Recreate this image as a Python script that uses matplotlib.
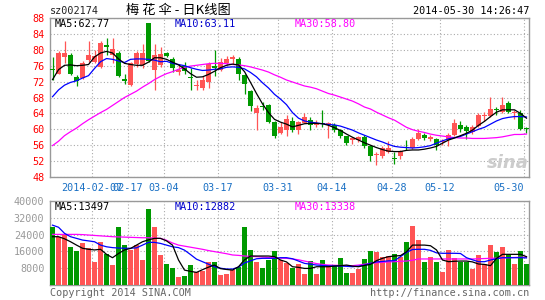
import matplotlib
matplotlib.use('Agg')
import matplotlib.pyplot as plt
import numpy as np

# daily K data for sz002174
opens = [75.2, 74.0, 78.2, 78.6, 73.1, 73.0, 77.5, 77.0, 75.7, 81.2,
         78.8, 79.2, 72.7, 71.1, 76.5, 76.1, 86.7, 74.8, 76.1, 79.2,
         77.6, 74.3, 76.0, 73.2, 70.8, 70.4, 72.0, 76.0, 75.0, 76.8,
         77.6, 77.6, 73.6, 69.6, 64.0, 65.7, 66.1, 61.9, 59.0, 59.8,
         62.1, 59.8, 61.7, 62.3, 61.2, 61.7, 61.1, 61.2, 59.8, 58.2,
         57.4, 57.4, 58.1, 55.7, 53.5, 53.2, 54.4, 52.8, 53.2, 55.5,
         55.4, 57.6, 58.6, 57.6, 57.6, 56.8, 57.3, 58.6, 61.2, 60.7,
         59.2, 60.9, 63.4, 63.3, 64.9, 64.4, 66.7, 64.1, 64.0, 60.1]
closes = [74.9, 79.2, 79.3, 74.0, 72.2, 76.6, 78.6, 78.4, 81.7, 80.7,
          80.3, 73.5, 72.1, 76.7, 79.2, 79.2, 77.3, 78.6, 79.0, 78.5,
          75.3, 74.8, 74.6, 73.0, 71.2, 72.3, 76.5, 75.4, 76.9, 77.7,
          78.1, 73.9, 71.5, 65.9, 65.4, 65.6, 61.9, 58.2, 60.7, 62.7,
          59.8, 61.9, 63.2, 61.2, 61.7, 61.3, 61.5, 59.8, 58.2, 56.5,
          57.7, 58.0, 55.7, 53.2, 53.7, 55.2, 55.2, 52.6, 54.6, 55.4,
          57.6, 59.0, 57.9, 58.0, 56.1, 57.0, 58.6, 61.5, 60.2, 59.6,
          60.7, 63.7, 63.7, 65.1, 64.8, 66.2, 64.4, 64.2, 60.1, 60.0]
highs = [78.2, 79.8, 82.2, 79.2, 73.6, 77.3, 82.2, 80.0, 82.3, 83.0,
         83.0, 79.7, 73.8, 76.9, 79.8, 81.5, 86.8, 81.5, 80.7, 79.4,
         78.2, 76.5, 77.0, 75.5, 72.5, 73.5, 77.0, 80.0, 78.0, 78.5,
         78.8, 78.2, 74.0, 69.9, 66.1, 66.9, 66.3, 62.1, 61.9, 63.7,
         63.2, 62.1, 64.0, 63.2, 62.3, 64.8, 61.9, 61.7, 60.2, 58.4,
         58.1, 58.4, 58.6, 56.1, 54.2, 55.7, 57.1, 54.4, 54.8, 57.3,
         58.1, 60.1, 59.0, 58.6, 57.9, 57.6, 59.0, 62.7, 62.1, 61.1,
         61.1, 64.0, 64.4, 68.2, 65.7, 68.2, 67.1, 64.8, 64.8, 60.7]
lows = [72.3, 73.8, 76.8, 73.6, 71.0, 72.6, 76.9, 76.6, 75.4, 78.6,
        76.7, 73.2, 71.3, 70.8, 75.7, 75.5, 76.9, 70.0, 75.7, 78.1,
        74.4, 73.7, 74.0, 70.0, 70.0, 69.8, 70.5, 73.5, 74.6, 76.3,
        76.5, 72.3, 69.0, 64.5, 59.8, 64.8, 61.7, 57.9, 58.7, 58.4,
        59.4, 58.7, 61.5, 59.8, 60.7, 60.7, 57.9, 59.4, 57.7, 56.1,
        56.2, 56.9, 55.4, 52.1, 50.9, 52.7, 54.0, 51.2, 52.6, 54.8,
        55.0, 57.3, 57.3, 57.1, 54.8, 56.1, 55.9, 58.2, 59.4, 57.6,
        58.9, 60.6, 62.1, 63.2, 63.6, 64.0, 64.2, 62.7, 59.8, 59.0]
volumes = [27770, 23010, 24300, 18250, 16270, 19840, 17600, 11110, 20630, 14700,
           9520, 27770, 19040, 16500, 19040, 11900, 36180, 27770, 14280, 10000,
           8170, 3970, 4500, 9520, 6200, 6800, 11110, 11110, 4900, 5400,
           7140, 8600, 27770, 16660, 10900, 7900, 11900, 16190, 11900, 10500,
           8250, 10000, 5240, 11590, 5240, 11900, 9520, 9520, 13020, 5870,
           5870, 7620, 12380, 16190, 15870, 13490, 13810, 14600, 13490, 20630,
           28100, 21430, 11110, 13490, 11110, 6350, 16670, 13000, 11110, 11110,
           7620, 14290, 10000, 19050, 15870, 17940, 14290, 10000, 16190, 10000]

# moving average lines as drawn (they include data from before the window)
ma5 = [72.5, 75.0, 76.1, 76.2, 76.0, 76.1, 76.3, 78.2, 79.2, 79.6,
       79.2, 77.7, 76.6, 76.3, 76.1, 76.1, 76.9, 78.0, 78.0, 77.6,
       76.9, 76.2, 75.2, 74.0, 73.1, 73.2, 73.8, 74.6, 75.5, 76.1,
       76.4, 76.2, 74.5, 71.8, 69.0, 66.4, 64.2, 62.5, 61.8, 61.3,
       60.6, 61.0, 61.4, 61.5, 61.5, 61.4, 61.0, 60.4, 59.7, 58.8,
       58.0, 57.3, 56.6, 56.0, 55.4, 54.9, 54.5, 54.4, 54.4, 54.7,
       54.8, 54.8, 55.0, 55.3, 55.7, 56.5, 57.3, 57.8, 58.4, 59.0,
       59.8, 61.0, 62.0, 63.2, 64.3, 64.9, 64.9, 64.9, 64.0, 62.8]
ma10 = [68.2, 69.9, 71.1, 71.8, 72.2, 72.9, 73.5, 75.3, 77.0, 77.8,
        77.6, 77.2, 76.8, 77.6, 77.7, 77.7, 77.6, 77.4, 77.0, 77.1,
        76.6, 76.3, 76.0, 75.5, 75.1, 74.8, 74.9, 75.1, 75.2, 75.6,
        75.7, 75.6, 75.2, 74.3, 73.2, 71.7, 70.4, 68.8, 67.6, 66.2,
        64.2, 62.8, 62.1, 61.8, 61.6, 61.4, 61.2, 61.1, 60.8, 60.3,
        59.8, 59.1, 58.5, 57.9, 57.3, 56.8, 56.2, 55.7, 55.5, 55.4,
        55.3, 55.4, 55.6, 55.9, 56.5, 57.1, 57.6, 57.9, 58.2, 58.8,
        59.4, 60.0, 60.5, 61.3, 62.1, 62.7, 63.0, 63.2, 63.2, 63.1]
ma30 = [55.9, 57.0, 58.4, 59.4, 60.3, 61.4, 62.4, 63.3, 64.2, 65.0,
        66.0, 67.0, 68.0, 68.8, 69.6, 70.6, 71.5, 72.5, 73.3, 74.0,
        74.5, 75.1, 75.6, 75.9, 76.1, 76.3, 76.5, 76.6, 76.6, 76.5,
        76.3, 76.2, 76.0, 75.7, 75.3, 74.9, 74.4, 73.7, 73.1, 72.4,
        71.9, 71.4, 70.9, 70.6, 70.2, 69.6, 69.0, 68.6, 68.1, 67.6,
        67.1, 66.4, 65.6, 65.1, 64.3, 63.6, 62.9, 62.3, 61.4, 60.5,
        59.9, 59.5, 59.2, 58.8, 58.5, 58.3, 58.1, 57.9, 57.8, 57.8,
        57.7, 57.7, 57.7, 57.8, 57.9, 58.1, 58.4, 58.7, 58.7, 58.8]
vol_ma5 = [23000, 23000, 22000, 20600, 19000, 17500, 17000, 16700, 17000, 14600,
           13000, 15000, 16700, 17400, 19000, 20600, 21500, 22200, 22200, 21000,
           19000, 11900, 7100, 6500, 6000, 7300, 8500, 9500, 7800, 7400,
           7100, 8700, 12000, 13800, 13800, 13800, 13800, 13500, 11900, 11000,
           8700, 8400, 7900, 7900, 8700, 8700, 8700, 9000, 9200, 9500,
           9000, 8700, 9300, 9800, 11600, 12700, 13500, 13800, 14000, 15800,
           19000, 19000, 19000, 18700, 16700, 11900, 11100, 11300, 11400, 11400,
           11000, 10000, 9800, 9200, 12700, 14600, 14600, 14600, 14600, 13500]
vol_ma10 = [28500, 27500, 24600, 23000, 22200, 21400, 21000, 20600, 19000, 18200,
            17800, 17600, 17500, 17500, 17700, 19000, 20300, 20300, 19800, 19000,
            18200, 17800, 16600, 14500, 12300, 11100, 9900, 8700, 8000, 7600,
            7600, 8500, 10500, 11500, 12500, 12700, 12700, 12700, 13000, 13000,
            12500, 11400, 10300, 9900, 9500, 9300, 9100, 9050, 9050, 8900,
            8700, 9000, 9500, 10300, 11000, 11200, 11500, 11600, 13500, 15500,
            16900, 17000, 17000, 16500, 15300, 15100, 15100, 15100, 15000, 13000,
            12000, 11100, 11100, 11900, 12500, 13000, 13000, 13000, 13000, 12900]
vol_ma30 = [24100, 24100, 24100, 24100, 24100, 24000, 23800, 23600, 23400, 23200,
            23000, 22900, 22800, 22700, 22600, 22500, 22500, 22300, 22200, 21300,
            20000, 19000, 18500, 18000, 17500, 17000, 16400, 15900, 15400, 14900,
            14300, 14100, 13800, 13600, 13500, 13300, 13100, 13000, 12800, 12700,
            12400, 12000, 11400, 10800, 10200, 9800, 9500, 9400, 9300, 9200,
            9200, 9500, 9900, 10300, 10600, 10800, 11000, 11100, 11300, 11400,
            11800, 12400, 12400, 12400, 12400, 12400, 12400, 12400, 12400, 12400,
            12400, 12500, 12600, 12700, 12800, 12900, 13000, 13100, 13200, 13300]

# legend values as printed on the chart
price_legend = ['MA5:62.77', 'MA10:63.11', 'MA30:58.80']
vol_legend = ['MA5:13497', 'MA10:12882', 'MA30:13338']

date_labels = ['2014-02-07', '02-17', '03-04', '03-17', '03-31', '04-14', '04-28', '05-12', '05-30']
date_index = [7, 13, 19, 28, 38, 47, 57, 65, 79]
price_ticks = [48, 52, 56, 60, 64, 68, 72, 76, 80, 84, 88]
vol_ticks = [8000, 16000, 24000, 32000, 40000]

RED = '#ff5555'
GREEN = '#009900'
GRID = '#aaaaaa'
EDGE = '#999999'
MONO = 'DejaVu Sans Mono'

W, H = 545, 300
fig = plt.figure(figsize=(W / 100, H / 100), dpi=100)


def fx(px):
    return px / W


def fy(py):
    return 1 - py / H


ax = fig.add_axes([fx(50), fy(177), fx(529) - fx(50), fy(18) - fy(177)])
axv = fig.add_axes([fx(50), fy(285), fx(529) - fx(50), fy(201) - fy(285)])

x = np.arange(len(closes))
o = np.array(opens)
c = np.array(closes)
colors = np.where(c >= o, RED, GREEN)
grid_x = np.array(date_index) - 0.4

# candles
ax.vlines(x, lows, highs, colors=colors, lw=0.9, zorder=3)
ax.bar(x, np.maximum(np.abs(c - o), 0.25), bottom=np.minimum(o, c), width=0.8,
       color=colors, linewidth=0, zorder=4)
ax.plot(x, ma30, color='#ff00ff', lw=0.9, zorder=5)
ax.plot(x, ma10, color='#0000ff', lw=0.9, zorder=5)
ax.plot(x, ma5, color='black', lw=0.9, zorder=6)

# volume
axv.bar(x, volumes, width=0.8, color=colors, linewidth=0, zorder=3)
axv.plot(x, vol_ma30, color='#ff00ff', lw=0.9, zorder=5)
axv.plot(x, vol_ma10, color='#0000ff', lw=0.9, zorder=5)
axv.plot(x, vol_ma5, color='black', lw=0.9, zorder=6)

for a in (ax, axv):
    a.set_xlim(-0.42, 79.42)
    for s in a.spines.values():
        s.set_color(EDGE)
        s.set_linewidth(1.0)
    a.set_xticks(grid_x)
    a.grid(True, color=GRID, lw=0.8, ls=(0, (1, 2)), zorder=1)
    a.set_axisbelow(True)

ax.set_ylim(48, 88)
ax.set_yticks(price_ticks)
ax.set_yticklabels([str(t) for t in price_ticks], family=MONO, fontsize=7.3)
ax.tick_params(axis='y', length=0, pad=4, labelcolor='#ff0000')
ax.set_xticklabels(date_labels, family=MONO, fontsize=7.3)
ax.tick_params(axis='x', length=0, pad=4, labelcolor='#1a70c4')
ax.get_xticklabels()[-1].set_ha('right')

axv.set_ylim(0, 40000)
axv.set_yticks(vol_ticks)
axv.set_yticklabels([str(t) for t in vol_ticks], family=MONO, fontsize=7.3)
axv.tick_params(axis='y', length=0, pad=4, labelcolor='#999999')
axv.tick_params(axis='x', length=0, labelbottom=False)

# header and legends
fig.text(fx(50), fy(11), 'sz002174', family=MONO, fontsize=7.3, color='#222222', va='center')
fig.text(fx(178), fy(10), '梅 花 伞 - 日K线图', family=['Noto Sans CJK SC', 'DejaVu Sans'],
         fontsize=9.5, ha='center', va='center')
fig.text(fx(529), fy(11), '2014-05-30 14:26:47', family=MONO, fontsize=7.3,
         ha='right', va='center')

legend_x = [55, 175, 295]
legend_colors = ['black', '#0000cc', '#ff00ff']
for lx, lc, pt, vt in zip(legend_x, legend_colors, price_legend, vol_legend):
    fig.text(fx(lx), fy(24), pt, family=MONO, fontsize=7.3, color=lc, va='center')
    fig.text(fx(lx), fy(207), vt, family=MONO, fontsize=7.3, color=lc, va='center')

fig.text(fx(508), fy(163), 'sina', fontsize=13, fontweight='bold', style='italic',
         color='#cccccc', ha='center', va='center', zorder=0)

fig.text(fx(50), fy(293), 'Copyright 2014 SINA.COM', family=MONO, fontsize=7.3,
         color='#666666', va='center')
fig.text(fx(529), fy(293), 'http://finance.sina.com.cn', family=MONO, fontsize=7.3,
         color='#666666', ha='right', va='center')

fig.savefig('out.png', dpi=100, facecolor='white')
